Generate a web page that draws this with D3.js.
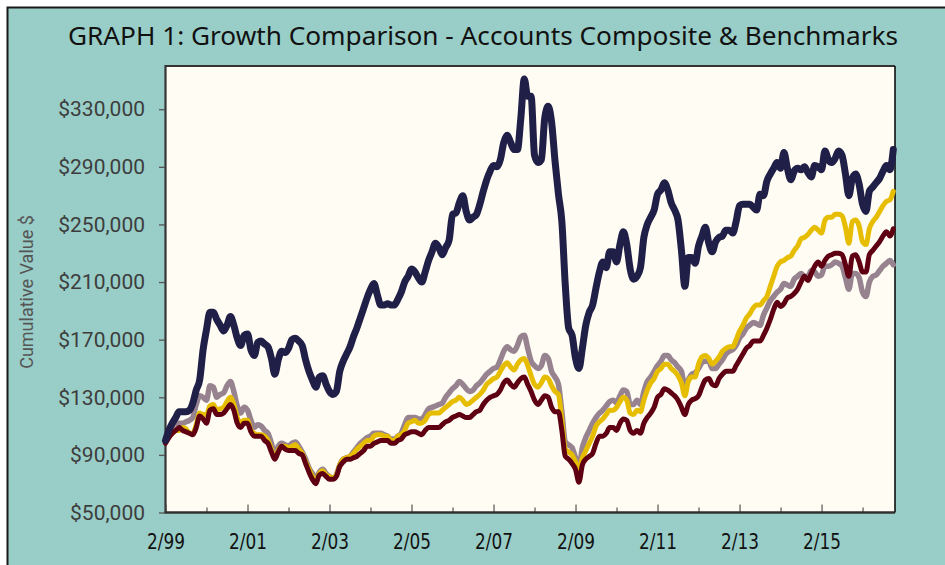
<!DOCTYPE html>
<html>
<head>
<meta charset="utf-8">
<script src="https://cdn.jsdelivr.net/npm/d3@7"></script>
<style>
  body { margin: 0; background: #fff; }
  svg { display: block; }
</style>
</head>
<body>
<svg width="945" height="565"></svg>
<script>
// monthly cumulative values in $ thousands, one row per year starting 2/99
var composite = [
  100,107,112,116,120,120,120,121,126,135,142,163,
  177,189,189,184,180,176,180,186,180,171,166,173,
  174,163,159,168,169,167,165,157,146,156,162,161,
  164,170,171,169,166,156,148,142,137,144,145,139,
  134,132,134,148,155,160,165,172,178,185,192,199,
  205,209,201,194,194,195,194,194,198,203,210,214,
  219,217,213,210,217,225,231,237,234,229,234,239,
  257,258,265,270,259,253,255,257,264,273,281,287,
  291,290,295,307,312,307,302,302,324,351,339,339,
  298,293,295,324,332,321,294,271,252,208,178,173,
  157,150,164,180,189,194,206,217,224,220,231,231,
  224,236,245,236,219,212,214,220,241,250,255,260,
  271,274,279,274,265,260,253,232,207,227,227,223,
  235,242,248,237,231,238,241,242,246,246,244,252,
  263,264,264,264,262,260,271,270,280,285,289,293,
  289,300,289,281,287,289,288,290,286,283,291,290,
  288,301,295,293,296,301,298,285,270,282,285,278,
  264,259,273,276,279,282,287,291,288,302
];
var benchGray = [
  100,106,110,112,112,112,113,114,116,125,131,130,
  128,138,137,130,132,133,138,141,134,124,119,123,
  121,114,109,111,110,107,105,98,90,96,98,97,
  96,98,99,96,92,87,81,77,74,78,80,77,
  75,74,76,83,87,88,89,92,95,98,100,102,
  103,105,105,105,104,103,101,101,103,105,111,116,
  116,116,115,115,118,122,123,124,125,126,130,133,
  136,138,141,139,136,134,135,138,140,143,146,148,
  150,151,156,162,165,163,162,166,172,173,164,155,
  152,150,152,159,157,148,144,139,120,99,97,95,
  88,82,95,102,107,112,116,119,121,124,127,128,
  126,131,135,134,125,125,128,125,134,141,144,148,
  152,155,159,159,156,154,151,148,137,142,146,147,
  150,154,155,155,150,150,153,156,160,162,163,166,
  171,174,178,180,182,181,180,187,192,197,200,203,
  205,209,208,207,212,214,216,214,214,218,217,214,
  215,221,221,222,224,223,221,213,205,216,216,213,
  203,200,210,214,215,218,221,223,225,222
];
var benchGold = [
  99,103,105,107,107,109,108,105,105,111,119,118,
  118,124,125,121,122,123,127,130,125,116,112,114,
  114,107,105,104,104,103,100,94,88,93,96,96,
  95,96,97,94,91,85,80,75,72,77,79,76,
  75,74,76,83,87,88,89,91,94,96,98,100,
  100,103,104,104,103,103,100,100,103,104,107,112,
  113,114,112,112,114,118,119,119,119,121,123,125,
  127,128,130,128,125,126,128,130,132,135,139,141,
  143,144,148,152,154,151,149,153,156,157,152,145,
  139,137,140,144,143,138,134,132,114,94,92,90,
  85,80,88,93,98,103,110,113,115,118,121,121,
  123,127,130,128,119,118,121,120,128,135,140,143,
  148,150,153,153,150,148,145,140,131,141,144,144,
  153,158,159,157,153,155,158,162,164,165,165,170,
  176,180,185,188,192,194,194,197,200,207,214,221,
  224,225,227,228,232,235,240,241,243,246,248,246,
  244,253,255,255,257,257,256,248,237,252,253,249,
  238,236,247,252,255,259,263,266,267,273
];
var benchMaroon = [
  98,102,105,107,109,107,106,105,104,109,117,115,
  112,121,122,118,118,119,122,125,121,112,109,112,
  112,106,103,103,103,100,98,92,87,92,96,94,
  93,93,93,91,90,84,78,73,70,76,77,75,
  73,73,75,82,85,87,87,88,89,91,93,96,
  96,98,99,100,100,100,98,98,100,101,104,105,
  106,106,105,104,107,109,109,109,109,111,113,114,
  116,117,118,117,116,116,118,120,121,125,128,130,
  131,132,135,140,142,139,137,140,143,144,139,134,
  128,125,128,131,130,123,120,120,107,89,87,84,
  80,71,83,87,89,91,98,103,103,105,109,109,
  107,112,115,114,107,105,107,105,112,116,119,123,
  130,132,136,135,133,131,128,123,118,125,128,129,
  131,137,142,143,139,138,143,146,148,148,148,152,
  156,160,164,166,169,169,169,173,178,184,191,196,
  193,195,199,200,202,205,210,214,211,216,221,224,
  221,225,228,229,230,230,229,222,214,228,229,224,
  217,217,229,232,235,238,242,245,242,247
];

var tickLabels = ['2/99','2/01','2/03','2/05','2/07','2/09','2/11','2/13','2/15'];
var yTicks = [50000, 90000, 130000, 170000, 210000, 250000, 290000, 330000];

var svg = d3.select('svg');

var plotLeft = 165.5, plotRight = 895, plotTop = 66, plotBottom = 512.5;

// outer teal panel (cropped at right and bottom)
svg.append('rect')
  .attr('x', 7.5).attr('y', 7.5)
  .attr('width', 960).attr('height', 580)
  .attr('fill', '#99cdc7')
  .attr('stroke', '#1a1a1a')
  .attr('stroke-width', 2);

svg.append('text')
  .attr('x', 483).attr('y', 44.5)
  .attr('text-anchor', 'middle')
  .attr('font-family', 'Noto Sans, DejaVu Sans, sans-serif')
  .attr('font-size', 25)
  .attr('fill', '#111')
  .attr('textLength', 830)
  .attr('lengthAdjust', 'spacingAndGlyphs')
  .text('GRAPH 1: Growth Comparison - Accounts Composite & Benchmarks');

// plot area
svg.append('rect')
  .attr('x', plotLeft).attr('y', plotTop)
  .attr('width', plotRight - plotLeft).attr('height', plotBottom - plotTop)
  .attr('fill', '#fffcf3');
svg.append('path')
  .attr('d', 'M' + plotLeft + ',' + plotBottom + 'V' + plotTop + 'H' + plotRight)
  .attr('fill', 'none').attr('stroke', '#353535').attr('stroke-width', 2.2);
svg.append('line')
  .attr('x1', plotRight).attr('x2', plotRight).attr('y1', plotTop).attr('y2', plotBottom)
  .attr('stroke', '#000').attr('stroke-width', 1.5);

var xScale = d3.scaleLinear()
  .domain([0, 213.5])
  .range([plotLeft, plotRight]);

var yScale = d3.scaleLinear()
  .domain([50000, 360000])
  .range([plotBottom, plotTop]);

// y axis
var yAxis = svg.append('g')
  .attr('transform', 'translate(' + (plotLeft - 0.5) + ',0)')
  .call(d3.axisLeft(yScale)
    .tickValues(yTicks)
    .tickSize(6)
    .tickPadding(14)
    .tickFormat(function(d) { return '$' + d3.format(',')(d); }));
yAxis.select('.domain').remove();
yAxis.selectAll('line').attr('stroke', '#555').attr('stroke-width', 1.3);
yAxis.selectAll('text')
  .attr('font-family', 'Roboto, sans-serif')
  .attr('font-size', 21)
  .attr('fill', '#3d3d3d');

svg.append('text')
  .attr('transform', 'translate(33,292) rotate(-90)')
  .attr('text-anchor', 'middle')
  .attr('font-family', 'Roboto, sans-serif')
  .attr('font-size', 18)
  .attr('fill', '#555')
  .text('Cumulative Value $');

// x axis: major ticks every two years (labelled), minor in between
var majorIdx = tickLabels.map(function(d, i) { return i * 24; });
var minorIdx = d3.range(12, 213, 24);

var xMinor = svg.append('g')
  .attr('transform', 'translate(0,' + plotBottom + ')')
  .call(d3.axisBottom(xScale).tickValues(minorIdx).tickSize(-5).tickFormat(''));
xMinor.select('.domain').remove();

var xAxis = svg.append('g')
  .attr('transform', 'translate(0,' + plotBottom + ')')
  .call(d3.axisBottom(xScale)
    .tickValues(majorIdx)
    .tickSize(-8)
    .tickPadding(21)
    .tickFormat(function(d, i) { return tickLabels[i]; }));
xAxis.select('.domain').remove();
xMinor.selectAll('.tick line').attr('stroke', '#444').attr('stroke-width', 1.1);
xAxis.selectAll('.tick line').attr('stroke', '#444').attr('stroke-width', 1.1);
xAxis.selectAll('text')
  .attr('font-family', 'Liberation Sans Narrow, DejaVu Sans Condensed, sans-serif')
  .attr('font-size', 22)
  .attr('fill', '#111')
  .attr('textLength', 38)
  .attr('lengthAdjust', 'spacingAndGlyphs');

svg.append('line')
  .attr('x1', plotLeft - 1).attr('x2', plotRight)
  .attr('y1', plotBottom).attr('y2', plotBottom)
  .attr('stroke', '#303030').attr('stroke-width', 2.4);

// lines
var line = d3.line()
  .x(function(d, i) { return xScale(i); })
  .y(function(d) { return yScale(d * 1000); })
  .curve(d3.curveMonotoneX);

var series = [
  { values: benchGray, color: '#96838f', width: 5.5 },
  { values: benchGold, color: '#e6bd00', width: 5 },
  { values: benchMaroon, color: '#5e0012', width: 5 },
  { values: composite, color: '#1f1f47', width: 7 }
];

svg.selectAll('path.series')
  .data(series)
  .enter()
  .append('path')
    .attr('class', 'series')
    .attr('d', function(d) { return line(d.values); })
    .attr('fill', 'none')
    .attr('stroke', function(d) { return d.color; })
    .attr('stroke-width', function(d) { return d.width; })
    .attr('stroke-linejoin', 'round')
    .attr('stroke-linecap', 'round');
</script>
</body>
</html>
